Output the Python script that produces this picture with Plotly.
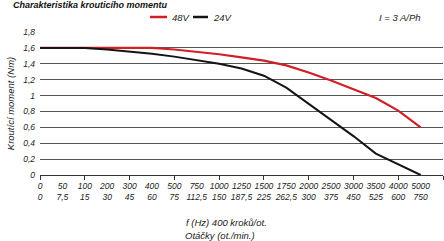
import plotly.graph_objects as go

freq_labels = ["0", "50", "100", "200", "300", "400", "500", "750", "1000", "1250",
               "1500", "1750", "2000", "2500", "3000", "3500", "4000", "5000"]
rpm_labels = ["0", "7,5", "15", "30", "45", "60", "75", "112,5", "150", "187,5",
              "225", "262,5", "300", "375", "450", "525", "600", "750"]
torque_48v = [1.6, 1.6, 1.6, 1.6, 1.6, 1.6, 1.58, 1.55, 1.52, 1.48,
              1.44, 1.38, 1.29, 1.19, 1.08, 0.97, 0.81, 0.60]
torque_24v = [1.6, 1.6, 1.6, 1.58, 1.555, 1.525, 1.49, 1.445, 1.40, 1.34,
              1.25, 1.10, 0.90, 0.69, 0.49, 0.27, 0.13, 0.0]
y_ticks = [0, 0.2, 0.4, 0.6, 0.8, 1.0, 1.2, 1.4, 1.6, 1.8]
y_tick_text = ["0", "0,2", "0,4", "0,6", "0,8", "1", "1,2", "1,4", "1,6", "1,8"]

FONT = "Liberation Sans, Arial, sans-serif"
RED = "#d01f27"
BLACK = "#141414"
TXT = "#222"

# plot area in page pixels
L, R, T, B = 40, 443, 32, 175
PW, PH = R - L, B - T


def px(x):
    return (x - L) / PW


def py(y):
    return (B - y) / PH


idx = list(range(len(freq_labels)))
tick_text = [f"{a}<br>{b}" for a, b in zip(freq_labels, rpm_labels)]

fig = go.Figure()
fig.add_trace(go.Scatter(x=idx, y=torque_48v, mode="lines", name="48V",
                         line=dict(color=RED, width=2.2), showlegend=False))
fig.add_trace(go.Scatter(x=idx, y=torque_24v, mode="lines", name="24V",
                         line=dict(color=BLACK, width=2), showlegend=False))
# invisible trace to carry the tick-mark axis
fig.add_trace(go.Scatter(x=[0], y=[0], xaxis="x2", mode="markers",
                         marker=dict(opacity=0), showlegend=False, hoverinfo="skip"))

tf = dict(family=FONT, size=8.5, color=TXT, style="italic")
af = dict(family=FONT, size=9.5, color=TXT, style="italic")

fig.update_layout(
    width=444, height=241,
    margin=dict(l=L, r=444 - R, t=T, b=241 - B),
    paper_bgcolor="white", plot_bgcolor="white",
    font=tf,
    xaxis=dict(range=[0, 18], tickmode="array", tickvals=idx, ticktext=tick_text,
               tickangle=0, automargin=False,
               ticks="outside", ticklen=3, tickcolor="rgba(0,0,0,0)",
               showgrid=False, zeroline=False, showline=True, linecolor="#333",
               linewidth=1, tickfont=tf),
    xaxis2=dict(range=[0, 18], overlaying="x", side="bottom", anchor="y",
                tickmode="array", tickvals=list(range(0, 19, 2)), ticks="outside",
                ticklen=4, tickcolor="#333", tickwidth=1, showticklabels=False,
                showgrid=False, zeroline=False, showline=False),
    yaxis=dict(range=[0, 1.8], tickmode="array", tickvals=y_ticks, ticktext=y_tick_text,
               showgrid=True, gridcolor="#555", gridwidth=1, zeroline=False,
               showline=False, ticks="", ticklabelstandoff=4, automargin=False,
               tickfont=tf,
               title=dict(text="Kroutící moment (Nm)", standoff=6, font=af)),
)

fig.add_annotation(text="<b>Charakteristika krouticího momentu</b>", xref="paper", yref="paper",
                   x=px(11), y=py(5), xanchor="left", yanchor="middle", showarrow=False,
                   font=dict(family=FONT, size=9, color="#111", style="italic"))
# legend
LY = py(17)
fig.add_shape(type="line", xref="paper", yref="paper", x0=px(150), x1=px(167),
              y0=LY, y1=LY, line=dict(color=RED, width=2.5))
fig.add_annotation(text="48V", xref="paper", yref="paper", x=px(170), y=LY,
                   xanchor="left", yanchor="middle", showarrow=False, font=af)
fig.add_shape(type="line", xref="paper", yref="paper", x0=px(193), x1=px(208),
              y0=LY, y1=LY, line=dict(color=BLACK, width=2.5))
fig.add_annotation(text="24V", xref="paper", yref="paper", x=px(211), y=LY,
                   xanchor="left", yanchor="middle", showarrow=False, font=af)
fig.add_annotation(text="I = 3 A/Ph", xref="paper", yref="paper", x=px(400), y=LY,
                   xanchor="center", yanchor="middle", showarrow=False, font=af)
# x titles
fig.add_annotation(text="f (Hz) 400 kroků/ot.", xref="paper", yref="paper", x=px(226),
                   y=py(222), xanchor="center", yanchor="middle", showarrow=False, font=af)
fig.add_annotation(text="Otáčky (ot./min.)", xref="paper", yref="paper", x=px(220),
                   y=py(235), xanchor="center", yanchor="middle", showarrow=False, font=af)

fig.write_html("out.html", config={"displayModeBar": False},
               post_script="document.body.style.margin='0';")
